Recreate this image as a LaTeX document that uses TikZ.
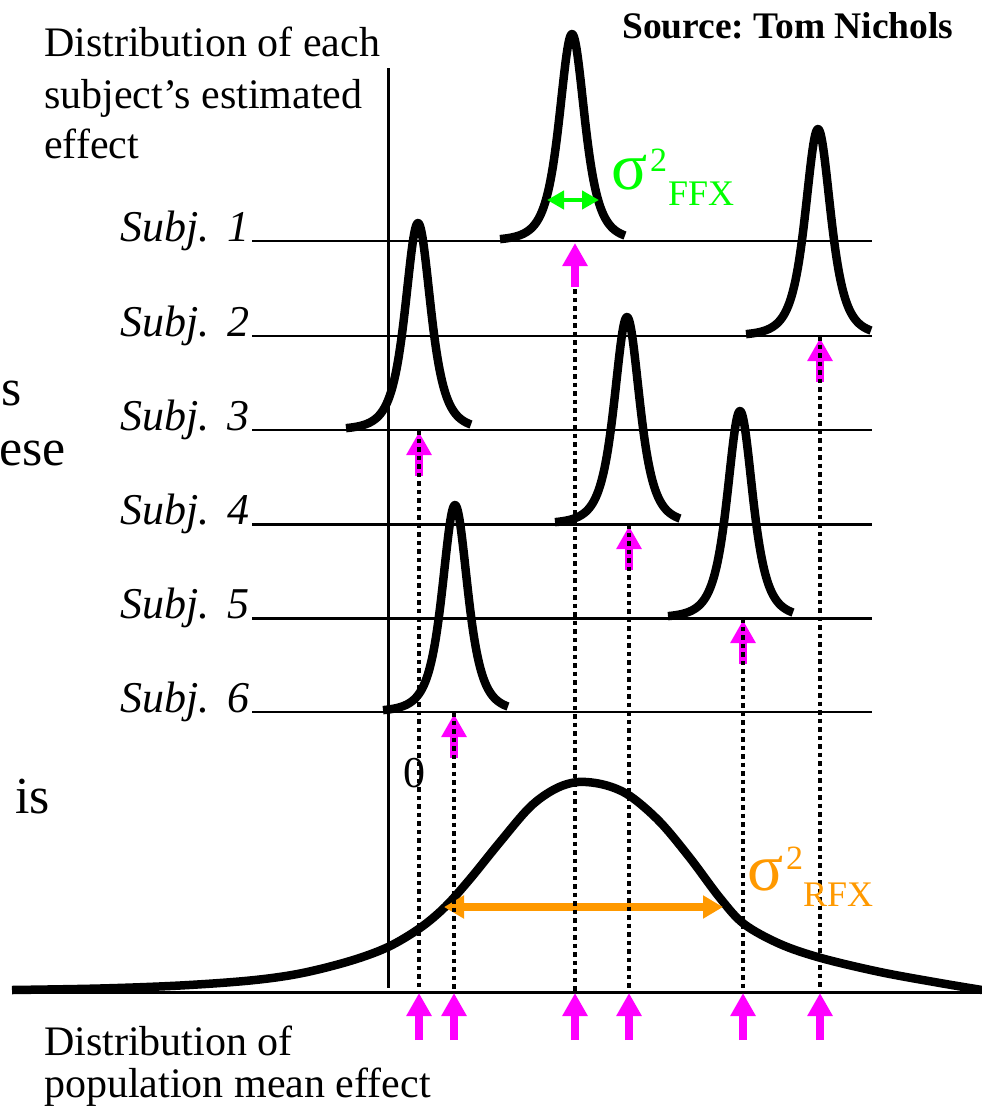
\documentclass[tikz,border=0pt]{standalone}
\usepackage{fontspec}
\setmainfont{Liberation Serif}
\usetikzlibrary{arrows.meta,calc}
\definecolor{pinkm}{RGB}{255,0,255}
\definecolor{ffxgreen}{RGB}{0,255,0}
\definecolor{rfxorange}{RGB}{255,153,0}
\frenchspacing
\begin{document}
\begin{tikzpicture}[x=1pt,y=-1pt,
  subjline/.style={line width=2pt},
  axisline/.style={line width=3pt},
  curve/.style={line width=8.5pt, line join=round},
  dotline/.style={line width=4.5pt, dash pattern=on 4.5pt off 4pt},
  magarrow/.style={pinkm, line width=8pt, -{Triangle[width=24pt,length=23pt]}},
  txt/.style={inner sep=0pt, anchor=base west, font=\fontsize{42}{42}\selectfont},
  subjlbl/.style={inner sep=0pt, anchor=base east, font=\itshape\fontsize{44}{44}\selectfont},
  bigl/.style={inner sep=0pt, font=\fontsize{52}{52}\selectfont},
  sig/.style={inner sep=0pt, anchor=base west, font=\fontsize{67}{67}\selectfont},
  supl/.style={inner sep=0pt, anchor=base west, font=\fontsize{34}{34}\selectfont},
  subl/.style={inner sep=0pt, anchor=base west, font=\fontsize{36}{36}\selectfont}]
\useasboundingbox (0,0) rectangle (982,1114);

% subject baselines
\foreach \i/\b in {1/241,2/336,3/430,4/524,5/618,6/712}{
  \coordinate (l\i) at (252,\b);
  \coordinate (r\i) at (872,\b);
}
\draw[subjline] (l1) -- (r1);
\draw[subjline] (l2) -- (r2);
\draw[subjline] (l3) -- (r3);
\draw[line width=3pt] (l4) -- (r4);
\draw[line width=3pt] (l5) -- (r5);
\draw[subjline] (l6) -- (r6);

% axes
\coordinate (vtop) at (388,68);
\coordinate (vbot) at (388,988);
\coordinate (axl) at (12,992);
\coordinate (axr) at (982,992);
\draw[axisline] (vtop) -- (vbot);
\draw[axisline] (axl) -- (axr);

% subject effect positions
\coordinate (b1) at (575,241); \coordinate (a1) at (575,992);
\coordinate (b2) at (820,336); \coordinate (a2) at (820,992);
\coordinate (b3) at (419,430); \coordinate (a3) at (419,992);
\coordinate (b4) at (629,524); \coordinate (a4) at (629,992);
\coordinate (b5) at (743,618); \coordinate (a5) at (743,992);
\coordinate (b6) at (454,712); \coordinate (a6) at (454,992);

% subject distributions
\foreach \m/\b in {572/241,818/336,418/430,627/524,740/618,455/712}{
  \draw[curve] plot[domain=-72:53,samples=140] ({\m+(\x)},{\b-207/((1+(\x)*(\x)/547)^2)});
}

% population distribution
\draw[curve] plot[smooth,tension=0.55] coordinates {
 (12,990) (100,988.5) (180,985.5) (250,980.5) (300,973.5) (350,961) (388,947)
 (420,928) (445,907) (470,879) (500,842) (530,807) (555,789) (578,782)
 (605,785) (630,796) (660,822) (690,858) (720,898) (744,924) (780,944)
 (821,958) (880,972) (940,983) (982,990)};

% variance arrows
\coordinate (g1) at (547,200); \coordinate (g2) at (599,200);
\draw[ffxgreen, line width=4.5pt, {Triangle[width=18pt,length=17pt]}-{Triangle[width=18pt,length=17pt]}] (g1) -- (g2);
\coordinate (o1) at (444,907); \coordinate (o2) at (723,907);
\draw[rfxorange, line width=8pt, {Triangle[width=22pt,length=20pt]}-{Triangle[width=22pt,length=20pt]}] (o1) -- (o2);

% magenta arrows
\foreach \i in {1,...,6}{
  \draw[magarrow] ($(b\i)+(0,46)$) -- ($(b\i)+(0,2)$);
  \draw[magarrow] ($(a\i)+(0,48)$) -- ($(a\i)+(0,1)$);
}

% dotted projections
\draw[dotline] ($(b1)+(0,48)$) -- (a1);
\foreach \i in {2,...,6}{
  \draw[dotline] (b\i) -- (a\i);
}

% texts
\node[txt] (t1) at (44,56) {Distribution of each};
\node[txt] (t2) at (44,108) {subject’s estimated};
\node[txt] (t3) at (44,158) {effect};
\node[txt] (p1) at (44,1055) {Distribution of};
\node[txt] (p2) at (44,1097) {population mean effect};
\node[inner sep=0pt, anchor=base west, font=\bfseries\fontsize{37.5}{37.5}\selectfont] (src) at (622,38) {Source: Tom Nichols};

\node[subjlbl] (s1) at (250,241) {Subj.\hspace{18pt}1};
\node[subjlbl] (s2) at (250,336) {Subj.\hspace{18pt}2};
\node[subjlbl] (s3) at (250,430) {Subj.\hspace{18pt}3};
\node[subjlbl] (s4) at (250,524) {Subj.\hspace{18pt}4};
\node[subjlbl] (s5) at (250,618) {Subj.\hspace{18pt}5};
\node[subjlbl] (s6) at (250,712) {Subj.\hspace{18pt}6};

\node[bigl, anchor=base west] (c1) at (1,405) {s};
\node[bigl, anchor=base east] (c2) at (66,465) {ese};
\node[bigl, anchor=base west] (c3) at (15,813) {is};

\node[inner sep=0pt, anchor=base, font=\fontsize{44}{44}\selectfont] (zero) at (414,787) {0};

\node[sig, text=ffxgreen] (sf) at (611,189) {σ};
\node[supl, text=ffxgreen] (sf2) at (650,171) {2};
\node[subl, text=ffxgreen] (sff) at (668,205) {FFX};
\node[sig, text=rfxorange] (sr) at (747,890) {σ};
\node[supl, text=rfxorange] (sr2) at (786,869) {2};
\node[subl, text=rfxorange] (srr) at (803,906) {RFX};
\end{tikzpicture}
\end{document}
